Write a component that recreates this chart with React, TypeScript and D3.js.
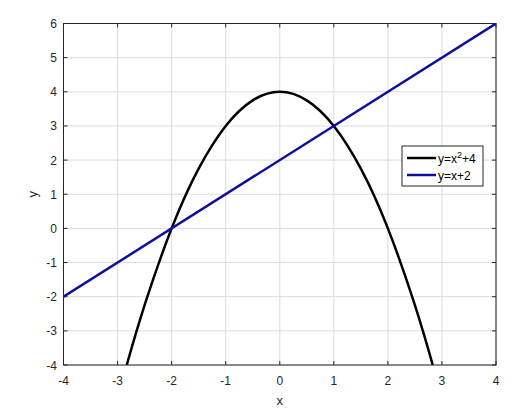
import React from "react";
import * as d3 from "d3";

const xTicks = [-4, -3, -2, -1, 0, 1, 2, 3, 4];
const yTicks = [-4, -3, -2, -1, 0, 1, 2, 3, 4, 5, 6];
const curveX = [-2.83, -2.5, -2, -1.5, -1, -0.5, 0, 0.5, 1, 1.5, 2, 2.5, 2.83];
const curveY = [-4, -2.25, 0, 1.75, 3, 3.75, 4, 3.75, 3, 1.75, 0, -2.25, -4];
const lineX = [-4, 4];
const lineY = [-2, 6];
const seriesNames = ["y=x", "y=x+2"];

const W = 526, H = 409;
const L = 63.5, R = 496, T = 23.5, B = 365;
const font = "'Liberation Sans', Arial, Helvetica, sans-serif";
const txt = "#262626";

export default function App() {
  const x = d3.scaleLinear().domain([-4, 4]).range([L, R]);
  const y = d3.scaleLinear().domain([-4, 6]).range([B, T]);
  const line = d3.line<number>().x((_, i) => x(curveX[i])).y((d) => y(d)).curve(d3.curveNatural);
  const line2 = d3.line<number>().x((_, i) => x(lineX[i])).y((d) => y(d));
  const tk = 4;
  const lx = 402, ly = 146, lw = 81, lh = 40;
  return (
    <svg width={W} height={H} style={{ position: "absolute", left: 0, top: 0, background: "#fff" }}>
      <rect x={0} y={0} width={W} height={H} fill="#fff" />
      {xTicks.map((t) => (
        <line key={"gx" + t} x1={x(t)} x2={x(t)} y1={T} y2={B} stroke="#dcdcdc" strokeWidth={1} />
      ))}
      {yTicks.map((t) => (
        <line key={"gy" + t} x1={L} x2={R} y1={y(t)} y2={y(t)} stroke="#dcdcdc" strokeWidth={1} />
      ))}
      <defs>
        <clipPath id="clip">
          <rect x={L} y={T} width={R - L} height={B - T} />
        </clipPath>
      </defs>
      <g clipPath="url(#clip)">
        <path d={line(curveY) || ""} fill="none" stroke="#000" strokeWidth={2.5} />
        <path d={line2(lineY) || ""} fill="none" stroke="#0d0d9e" strokeWidth={2.5} />
      </g>
      <rect x={L} y={T} width={R - L} height={B - T} fill="none" stroke="#262626" strokeWidth={1} />
      {xTicks.map((t) => (
        <g key={"tx" + t}>
          <line x1={x(t)} x2={x(t)} y1={B} y2={B - tk} stroke="#262626" />
          <line x1={x(t)} x2={x(t)} y1={T} y2={T + tk} stroke="#262626" />
          <text x={x(t)} y={384.5} textAnchor="middle" fontFamily={font} fontSize={12} fill={txt}>{t}</text>
        </g>
      ))}
      {yTicks.map((t) => (
        <g key={"ty" + t}>
          <line x1={L} x2={L + tk} y1={y(t)} y2={y(t)} stroke="#262626" />
          <line x1={R} x2={R - tk} y1={y(t)} y2={y(t)} stroke="#262626" />
          <text x={57} y={y(t) + 4.5} textAnchor="end" fontFamily={font} fontSize={12} fill={txt}>{t}</text>
        </g>
      ))}
      <text x={(L + R) / 2} y={405} textAnchor="middle" fontFamily={font} fontSize={13} fill={txt}>x</text>
      <text transform={`translate(37,${(T + B) / 2}) rotate(-90)`} textAnchor="middle" fontFamily={font} fontSize={13} fill={txt}>y</text>
      <rect x={lx} y={ly} width={lw} height={lh} fill="#fff" stroke="#262626" strokeWidth={1} />
      <line x1={lx + 5} x2={lx + 34} y1={ly + 12} y2={ly + 12} stroke="#000" strokeWidth={2.5} />
      <line x1={lx + 5} x2={lx + 34} y1={ly + 29} y2={ly + 29} stroke="#0d0d9e" strokeWidth={2.5} />
      <text x={lx + 36} y={ly + 16.5} fontFamily={font} fontSize={12} fill="#000">
        {seriesNames[0]}<tspan dy={-5} fontSize={9}>2</tspan><tspan dy={5}>+4</tspan>
      </text>
      <text x={lx + 36} y={ly + 33.5} fontFamily={font} fontSize={12} fill="#000">{seriesNames[1]}</text>
    </svg>
  );
}
